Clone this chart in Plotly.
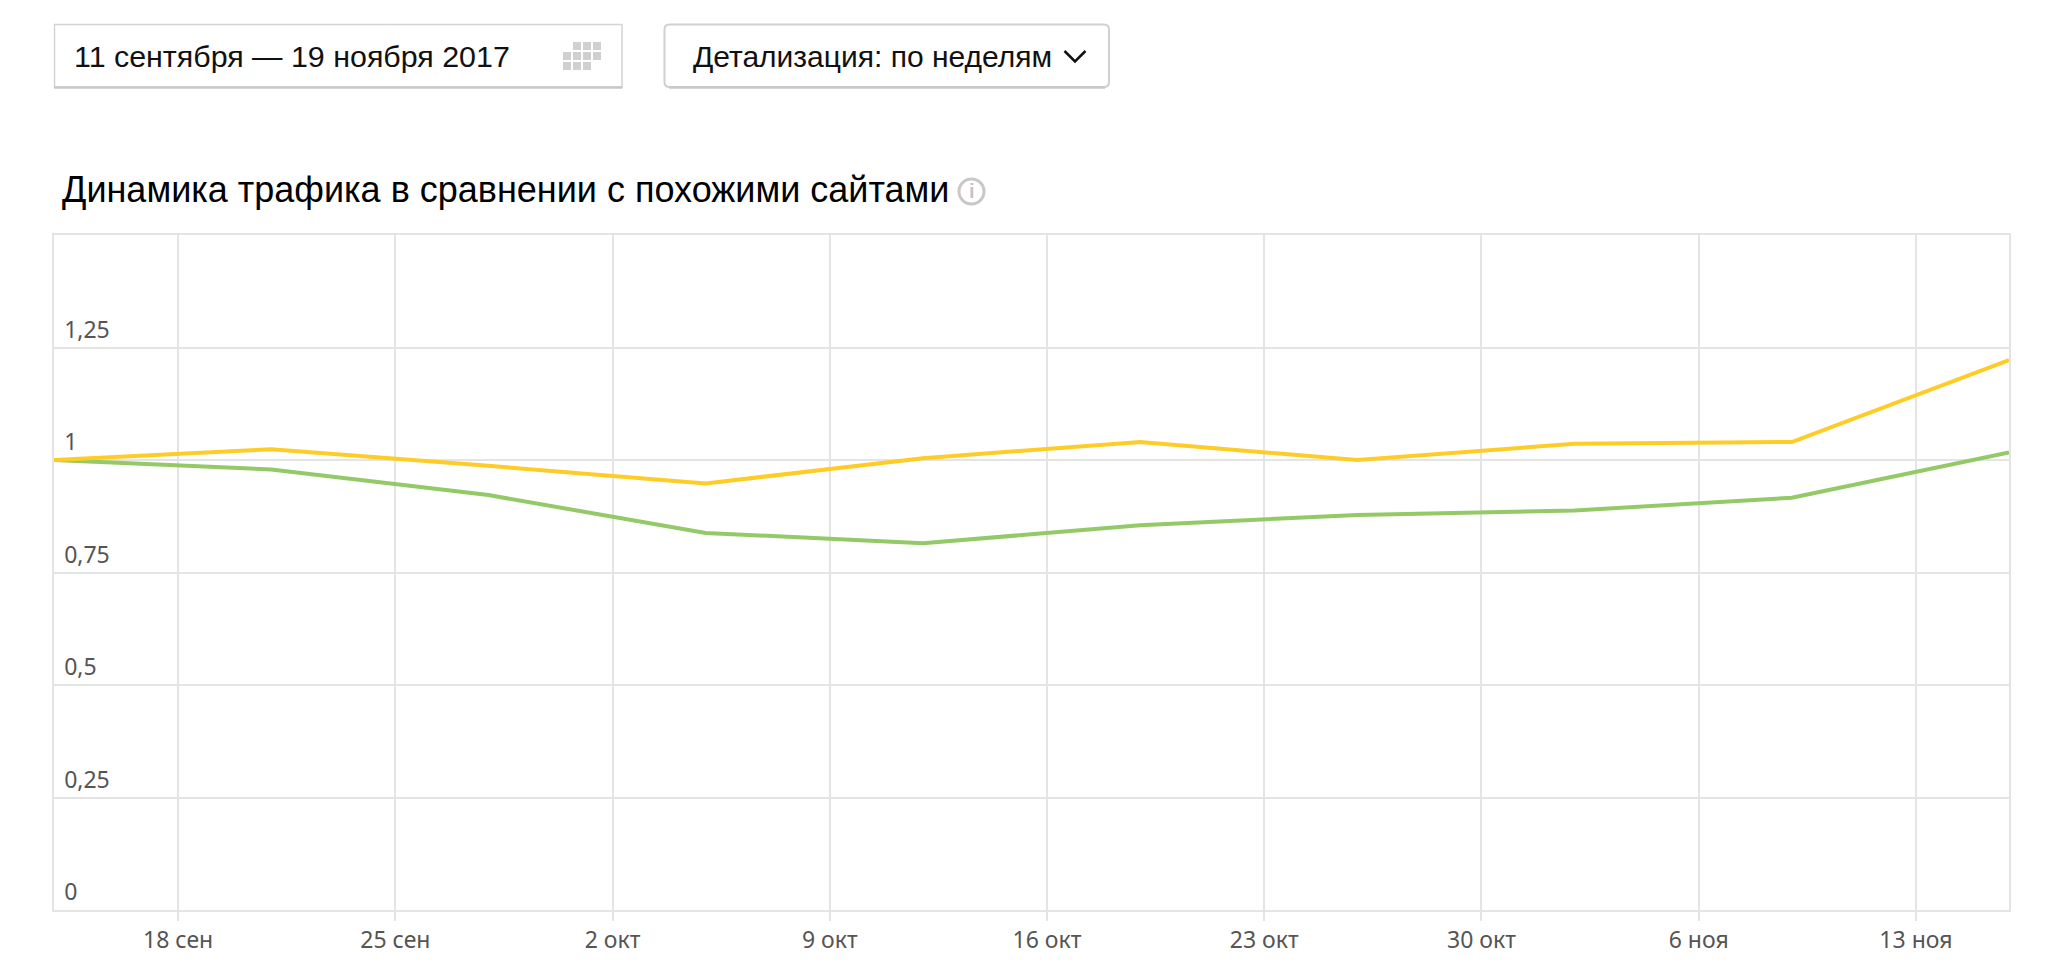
import plotly.graph_objects as go

week_dates = ["2017-09-14", "2017-09-21", "2017-09-28", "2017-10-05", "2017-10-12",
              "2017-10-19", "2017-10-26", "2017-11-02", "2017-11-09", "2017-11-16"]
site_values = [1.0, 1.024, 0.987, 0.948, 1.004, 1.04, 1.0, 1.036, 1.04, 1.222]
similar_values = [1.0, 0.979, 0.922, 0.838, 0.815, 0.855, 0.878, 0.888, 0.916, 1.017]
x_tick_dates = ["2017-09-18", "2017-09-25", "2017-10-02", "2017-10-09", "2017-10-16",
                "2017-10-23", "2017-10-30", "2017-11-06", "2017-11-13"]
x_tick_labels = ["18 сен", "25 сен", "2 окт", "9 окт", "16 окт", "23 окт", "30 окт", "6 ноя", "13 ноя"]
y_tick_values = [0, 0.25, 0.5, 0.75, 1, 1.25]
y_tick_labels = ["0", "0,25", "0,5", "0,75", "1", "1,25"]
date_text = "11 сентября — 19 ноября 2017"
detail_text = "Детализация: по неделям"
title_text = "Динамика трафика в сравнении с похожими сайтами"

L, R, T, B = 54, 2009, 235, 910
W, H = 2046, 978
GRID = "#e4e4e4"


def px(x):
    return (x - L) / (R - L)


def py(y):
    return (B - y) / (B - T)


def rounded(x0, y0, x1, y1, r):
    return (f"M {px(x0 + r)} {py(y0)} L {px(x1 - r)} {py(y0)} Q {px(x1)} {py(y0)} {px(x1)} {py(y0 + r)} "
            f"L {px(x1)} {py(y1 - r)} Q {px(x1)} {py(y1)} {px(x1 - r)} {py(y1)} "
            f"L {px(x0 + r)} {py(y1)} Q {px(x0)} {py(y1)} {px(x0)} {py(y1 - r)} "
            f"L {px(x0)} {py(y0 + r)} Q {px(x0)} {py(y0)} {px(x0 + r)} {py(y0)} Z")


shapes = [
    dict(type="rect", xref="paper", yref="paper", x0=px(54.5), x1=px(622), y0=py(24.5), y1=py(87),
         line=dict(color="#d4d4d4", width=1.5), fillcolor="white"),
    dict(type="path", xref="paper", yref="paper", path=rounded(664.5, 24.5, 1109, 87, 5),
         line=dict(color="#d0d0d0", width=2), fillcolor="white"),
    dict(type="line", xref="paper", yref="paper", x0=px(54), x1=px(622.5), y0=py(87.5), y1=py(87.5),
         line=dict(color="#c8c8c8", width=2.5)),
    dict(type="line", xref="paper", yref="paper", x0=px(669), x1=px(1105), y0=py(87.5), y1=py(87.5),
         line=dict(color="#c8c8c8", width=2.5)),
    dict(type="path", xref="paper", yref="paper",
         path=f"M {px(1064.5)} {py(51)} L {px(1075)} {py(61.5)} L {px(1085.5)} {py(51)}",
         line=dict(color="#111111", width=2.5)),
    dict(type="circle", xref="paper", yref="paper", x0=px(959), x1=px(984), y0=py(179), y1=py(204),
         line=dict(color="#c8c8c8", width=3), fillcolor="white"),
]
# calendar icon: 3 rows of cells, staggered
for row, cols in enumerate([(1, 2, 3), (0, 1, 2, 3), (0, 1, 2)]):
    for col in cols:
        x0 = 563 + col * 10
        y0 = 42 + row * 10
        shapes.append(dict(type="rect", xref="paper", yref="paper", x0=px(x0), x1=px(x0 + 8),
                           y0=py(y0), y1=py(y0 + 8), line=dict(width=0), fillcolor="#d0d0d0"))

annotations = [
    dict(text=date_text, x=px(72), y=py(56), xref="paper", yref="paper", xanchor="left", yanchor="middle",
         showarrow=False, font=dict(family="Liberation Sans", size=30.4, color="#111111")),
    dict(text=detail_text, x=px(691), y=py(56), xref="paper", yref="paper", xanchor="left", yanchor="middle",
         showarrow=False, font=dict(family="Liberation Sans", size=30, color="#111111")),
    dict(text=title_text, x=px(60), y=py(189), xref="paper", yref="paper", xanchor="left", yanchor="middle",
         showarrow=False, font=dict(family="Liberation Sans", size=36, color="#000000")),
    dict(text="<b>i</b>", x=px(971.5), y=py(191), xref="paper", yref="paper", xanchor="center", yanchor="middle",
         showarrow=False, font=dict(family="Liberation Sans", size=20, color="#c4c4c4")),
]

fig = go.Figure()
fig.add_trace(go.Scatter(x=week_dates, y=similar_values, mode="lines", name="Похожие сайты",
                         line=dict(color="#93c966", width=4), showlegend=False))
fig.add_trace(go.Scatter(x=week_dates, y=site_values, mode="lines", name="Сайт",
                         line=dict(color="#ffcc26", width=4), showlegend=False))

fig.update_layout(
    width=W, height=H, autosize=False,
    margin=dict(l=L, r=W - R, t=T, b=H - B, pad=0),
    paper_bgcolor="white", plot_bgcolor="white",
    shapes=shapes, annotations=annotations,
    xaxis=dict(type="date", range=[week_dates[0], week_dates[-1]], tickmode="array",
               tickvals=x_tick_dates, ticktext=x_tick_labels, ticks="outside", ticklen=9,
               tickwidth=1.5, tickcolor=GRID, showgrid=True, gridcolor=GRID, gridwidth=1.5,
               showline=True, linecolor=GRID, linewidth=1.5, mirror=True, zeroline=False,
               tickfont=dict(family="Noto Sans", size=23, color="#555555")),
    yaxis=dict(range=[0, 1.5], tickmode="array", tickvals=y_tick_values, ticktext=y_tick_labels,
               ticks="", showgrid=True, gridcolor=GRID, gridwidth=1.5,
               showline=True, linecolor=GRID, linewidth=1.5, mirror=True, zeroline=False,
               ticklabelposition="inside", ticklabelstandoff=12, ticklabelshift=-18,
               tickfont=dict(family="Noto Sans", size=23, color="#555555")),
)

fig.write_html("out.html", config={"displayModeBar": False},
               post_script="document.body.style.margin='0';")
